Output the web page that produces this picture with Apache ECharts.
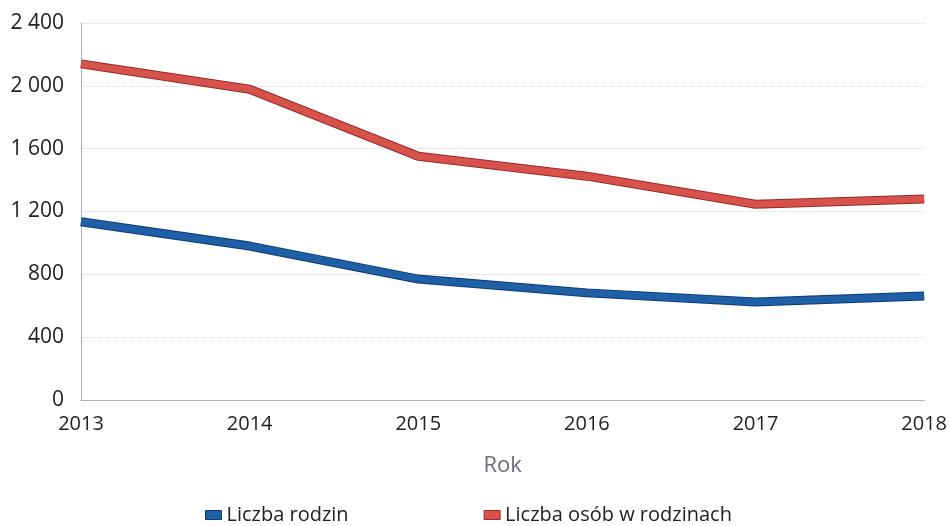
<!DOCTYPE html>
<html>
<head>
<meta charset="utf-8">
<script src="https://cdn.jsdelivr.net/npm/echarts@6/dist/echarts.min.js"></script>
<style>
  html, body { margin: 0; padding: 0; background: #fff; }
  #chart { width: 950px; height: 526px; }
</style>
</head>
<body>
<div id="chart"></div>
<script>
var years = ['2013', '2014', '2015', '2016', '2017', '2018'];
var liczbaRodzin = [1135, 980, 770, 682, 624, 662];
var liczbaOsob = [2140, 1978, 1552, 1425, 1246, 1280];

var chart = echarts.init(document.getElementById('chart'));

function fmt(v) {
    return String(v).replace(/\B(?=(\d{3})+(?!\d))/g, ' ');
}

var option = {
    backgroundColor: '#fff',
    textStyle: { fontFamily: 'Open Sans' },
    grid: { left: 81, right: 25, top: 23, bottom: 126 },
    legend: {
        left: 200,
        bottom: -4,
        itemWidth: 16,
        itemHeight: 9,
        itemGap: 135,
        textStyle: { fontSize: 20, color: '#222', fontFamily: 'Open Sans' },
        data: [
            { name: 'Liczba rodzin', icon: 'rect', itemStyle: { color: '#1f5fa6', borderColor: '#0c3a78', borderWidth: 1 } },
            { name: 'Liczba osób w rodzinach', icon: 'rect', itemStyle: { color: '#d6524a', borderColor: '#9b2a2a', borderWidth: 1 } }
        ]
    },
    xAxis: {
        type: 'category',
        data: years,
        boundaryGap: false,
        name: 'Rok',
        nameLocation: 'middle',
        nameGap: 66,
        nameTextStyle: { fontSize: 22, color: '#6b6f78', verticalAlign: 'middle' },
        axisLine: { lineStyle: { color: '#9aa0b8', type: 'dotted', width: 1 } },
        axisTick: { show: false },
        axisLabel: { fontSize: 20, color: '#222', margin: 14 },
        splitLine: { show: false }
    },
    yAxis: {
        type: 'value',
        min: 0,
        max: 2400,
        interval: 400,
        axisLine: { show: true, lineStyle: { color: '#9aa0b8', type: 'dotted', width: 1 } },
        axisTick: { show: false },
        axisLabel: { fontSize: 21, color: '#222', margin: 17, formatter: fmt },
        splitLine: { lineStyle: { color: '#d8d8d8', type: 'dotted', width: 1 } }
    },
    series: [
        {
            name: 'Liczba rodzin outline',
            type: 'line',
            data: liczbaRodzin,
            symbol: 'none',
            silent: true,
            lineStyle: { color: '#0c3a78', width: 9, cap: 'butt', join: 'round' }
        },
        {
            name: 'Liczba rodzin',
            type: 'line',
            data: liczbaRodzin,
            symbol: 'none',
            itemStyle: { color: '#1f5fa6' },
            lineStyle: { color: '#1f5fa6', width: 7, cap: 'butt', join: 'round' }
        },
        {
            name: 'Liczba osób outline',
            type: 'line',
            data: liczbaOsob,
            symbol: 'none',
            silent: true,
            lineStyle: { color: '#9b2a2a', width: 9, cap: 'butt', join: 'round' }
        },
        {
            name: 'Liczba osób w rodzinach',
            type: 'line',
            data: liczbaOsob,
            symbol: 'none',
            itemStyle: { color: '#d6524a' },
            lineStyle: { color: '#d6524a', width: 7, cap: 'butt', join: 'round' }
        }
    ]
};

chart.setOption(option);
</script>
</body>
</html>
